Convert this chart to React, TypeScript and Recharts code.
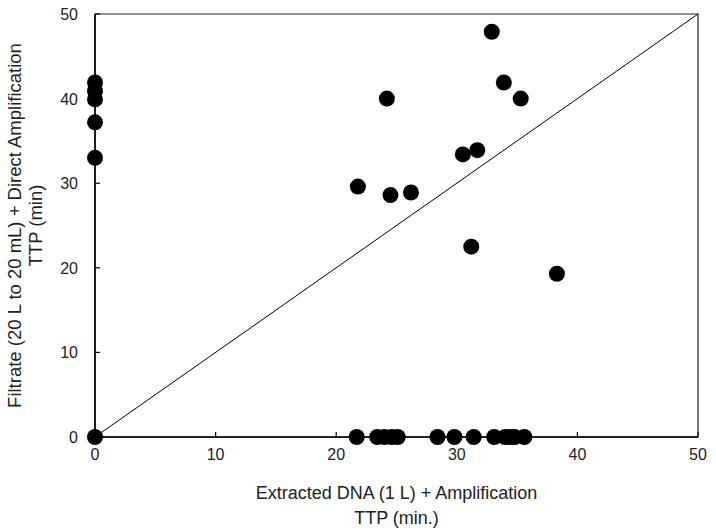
import React from 'react';
import { ScatterChart, Scatter, XAxis, YAxis, ReferenceLine, ReferenceArea } from 'recharts';

// TTP pairs: extracted DNA (x) vs filtrate direct amplification (y), minutes
const extractedTTP = [
  0, 0, 0, 0, 0, 0,
  21.8, 24.2, 24.5, 26.2, 30.5, 31.7, 31.2, 32.9, 33.9, 35.3, 38.3,
  21.7, 23.4, 24.0, 24.6, 25.1, 28.4, 29.8, 31.4, 33.1, 34.0, 34.4, 34.8, 35.6,
];
const filtrateTTP = [
  0, 33.0, 37.2, 39.9, 40.9, 41.9,
  29.6, 40.0, 28.6, 28.9, 33.4, 33.9, 22.5, 47.9, 41.9, 40.0, 19.3,
  0, 0, 0, 0, 0, 0, 0, 0, 0, 0, 0, 0, 0,
];
const axisTicks = [0, 10, 20, 30, 40, 50];
const identityLine = [{ x: 0, y: 0 }, { x: 50, y: 50 }];

const points = extractedTTP.map((x, i) => ({ x, y: filtrateTTP[i] }));

const FONT = 'Liberation Sans, Arial, sans-serif';

const BottomTick = ({ x, y, payload }: any) => (
  <g>
    <line x1={x} y1={y} x2={x} y2={y - 5} stroke="#000" strokeWidth={1.2} />
    <text x={x} y={y + 23} textAnchor="middle" fontSize={16} fontFamily={FONT} fill="#222">
      {payload.value}
    </text>
  </g>
);

const LeftTick = ({ x, y, payload }: any) => (
  <g>
    <line x1={x} y1={y} x2={x + 5} y2={y} stroke="#000" strokeWidth={1.2} />
    <text x={x - 17} y={y + 6} textAnchor="end" fontSize={16} fontFamily={FONT} fill="#222">
      {payload.value}
    </text>
  </g>
);

const XTitle = ({ viewBox }: any) => {
  const cx = viewBox.x + viewBox.width / 2;
  return (
    <g fontSize={18} fontFamily={FONT} fill="#222" textAnchor="middle">
      <text x={cx} y={499}>Extracted DNA (1 L) + Amplification</text>
      <text x={cx} y={524}>TTP (min.)</text>
    </g>
  );
};

const YTitle = ({ viewBox }: any) => {
  const cy = viewBox.y + viewBox.height / 2;
  return (
    <g fontSize={18.5} fontFamily={FONT} fill="#222" textAnchor="middle">
      <text x={21} y={cy} transform={`rotate(-90, 21, ${cy})`}>Filtrate (20 L to 20 mL) + Direct Amplification</text>
      <text x={42} y={cy} transform={`rotate(-90, 42, ${cy})`}>TTP (min)</text>
    </g>
  );
};

const Dot = (props: any) => <circle cx={props.cx} cy={props.cy} r={8} fill="#000" />;

export default function App() {
  return (
    <div style={{ position: 'absolute', left: 0, top: 0, background: '#fff' }}>
      <ScatterChart width={716} height={531} margin={{ top: 14, right: 18, bottom: 0, left: 0 }}>
        <XAxis
          type="number"
          dataKey="x"
          domain={[0, 50]}
          ticks={axisTicks}
          height={94}
          tickSize={0}
          tickMargin={0}
          tick={<BottomTick />}
          axisLine={{ stroke: '#000', strokeWidth: 1.5 }}
          label={<XTitle />}
        />
        <YAxis
          type="number"
          dataKey="y"
          domain={[0, 50]}
          ticks={axisTicks}
          width={95}
          tickSize={0}
          tickMargin={0}
          tick={<LeftTick />}
          axisLine={{ stroke: '#000', strokeWidth: 1.5 }}
          label={<YTitle />}
        />
        <ReferenceArea x1={0} x2={50} y1={0} y2={50} fill="none" stroke="#222" strokeWidth={1.2} />
        <ReferenceLine segment={identityLine} stroke="#000" strokeWidth={1} />
        <Scatter data={points} shape={<Dot />} isAnimationActive={false} />
      </ScatterChart>
    </div>
  );
}
